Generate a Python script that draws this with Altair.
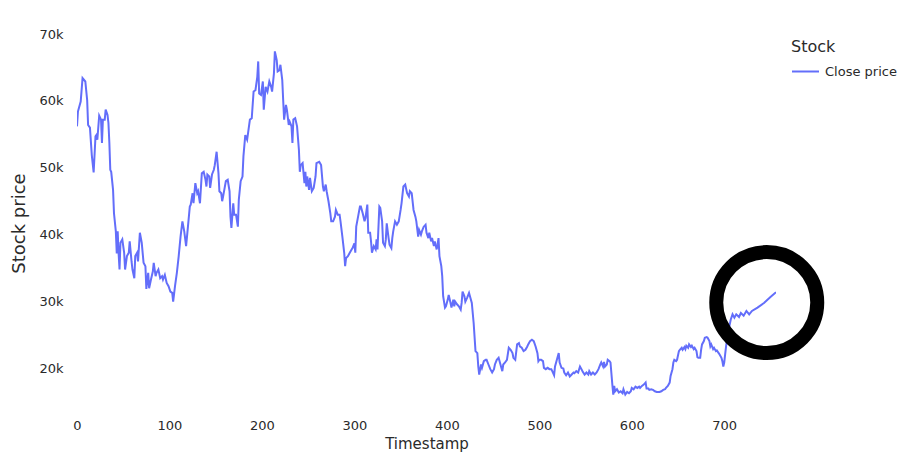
import altair as alt
import pandas as pd

# Timestamp values
timestamps = [
    0, 1, 4, 6, 9, 11, 12, 14, 16, 18, 20, 21, 22, 24, 26, 27, 28, 30, 31, 33,
    34, 35, 36, 37, 39, 40, 42, 43, 44, 45, 46, 47, 49, 51, 52, 54, 56, 57, 59, 60,
    62, 63, 65, 66, 68, 70, 72, 74, 75, 77, 78, 80, 82, 83, 85, 86, 88, 90, 92, 93,
    95, 97, 99, 101, 103, 104, 106, 108, 110, 112, 114, 116, 118, 120, 122, 123, 125, 126, 128, 130,
    131, 133, 135, 137, 139, 140, 141, 143, 144, 146, 148, 149, 151, 153, 154, 156, 157, 158, 161, 163,
    165, 166, 167, 169, 170, 172, 174, 175, 177, 179, 180, 182, 184, 185, 187, 189, 191, 193, 195, 196,
    197, 199, 201, 202, 204, 206, 208, 210, 211, 213, 214, 216, 217, 219, 220, 222, 223, 224, 226, 227,
    229, 230, 232, 233, 234, 236, 238, 240, 241, 242, 244, 246, 247, 248, 249, 251, 252, 254, 256, 258,
    259, 262, 264, 266, 267, 269, 270, 272, 274, 275, 277, 279, 280, 282, 284, 285, 287, 289, 290, 291,
    293, 295, 297, 298, 300, 301, 302, 304, 306, 307, 309, 311, 312, 314, 315, 317, 318, 319, 321, 323,
    324, 325, 327, 328, 330, 331, 333, 334, 335, 337, 338, 340, 341, 342, 344, 346, 348, 350, 351, 353,
    355, 357, 359, 360, 362, 364, 366, 367, 369, 370, 372, 373, 375, 377, 378, 380, 381, 383, 384, 386,
    387, 389, 390, 391, 392, 394, 395, 396, 398, 399, 401, 402, 404, 405, 407, 408, 409, 411, 413, 415,
    416, 417, 419, 420, 422, 424, 425, 427, 429, 431, 433, 434, 435, 437, 438, 440, 442, 443, 445, 447,
    449, 451, 452, 454, 456, 458, 460, 461, 463, 465, 467, 469, 471, 472, 474, 476, 478, 479, 481, 483,
    485, 487, 488, 490, 492, 494, 496, 498, 499, 500, 502, 504, 505, 507, 509, 511, 513, 514, 516, 517,
    519, 521, 522, 524, 526, 527, 529, 531, 533, 535, 537, 538, 540, 542, 544, 546, 547, 549, 551, 553,
    554, 556, 558, 560, 562, 564, 566, 567, 569, 570, 571, 573, 574, 576, 577, 579, 580, 581, 582, 584,
    586, 588, 590, 591, 593, 595, 597, 599, 600, 602, 604, 606, 608, 609, 611, 613, 615, 616, 618, 619,
    621, 623, 625, 627, 629, 630, 632, 634, 636, 637, 639, 641, 642, 644, 645, 646, 648, 649, 651, 652,
    654, 655, 657, 658, 659, 661, 662, 664, 665, 667, 668, 670, 671, 672, 674, 675, 676, 678, 679, 681,
    682, 684, 685, 686, 688, 689, 691, 692, 694, 695, 697, 698, 699, 700, 701, 702, 704, 707, 709, 711,
    713, 716, 718, 721, 724, 727, 730, 736, 743, 750, 756,
]

# Close price values
close_price = [
    56200, 58400, 59900, 63400, 62900, 60100, 56400, 56000, 51900, 49300, 54700, 54900, 54200, 57800, 57200, 53700, 57200, 57200, 58700, 57900,
    56700, 53700, 49700, 49400, 46700, 43200, 40500, 37200, 40500, 37200, 34800, 38800, 39300, 37300, 34800, 36800, 37300, 39000, 36000, 34800,
    33500, 36800, 37300, 36000, 40300, 38800, 35800, 35300, 31900, 34300, 32000, 33300, 34500, 35800, 33800, 34300, 34800, 33500, 33800, 33300,
    34000, 32800, 32300, 31500, 31300, 30000, 32300, 34300, 36800, 39700, 42000, 40500, 38300, 41200, 44200, 44500, 46200, 44700, 47700, 46200,
    46500, 44700, 49200, 49400, 48200, 47200, 49000, 48700, 47000, 49000, 49700, 50400, 52400, 49200, 46500, 46200, 45000, 45700, 48000, 48200,
    46500, 42700, 41000, 44700, 43000, 43000, 41200, 45200, 48000, 48700, 51700, 54900, 54200, 55200, 57200, 57400, 61400, 61600, 63600, 65900,
    61100, 60900, 62900, 58700, 62100, 61400, 62900, 62100, 61400, 64100, 67400, 66100, 64400, 64600, 65400, 63100, 60100, 57200, 59400, 58700,
    56400, 56900, 56200, 53700, 57200, 57400, 56200, 52700, 49400, 50400, 50700, 47700, 49400, 47200, 48700, 46700, 48500, 46500, 47000, 48700,
    50700, 50900, 50400, 47200, 46500, 47500, 46500, 45000, 43200, 42000, 42000, 42700, 43700, 43000, 43000, 42000, 39700, 37300, 35300, 36500,
    36800, 37300, 37800, 38000, 38700, 37300, 41200, 42700, 44200, 44200, 43200, 42000, 42500, 44500, 40300, 40300, 39000, 37300, 38300, 37800,
    39300, 37800, 44200, 44000, 42000, 38800, 38300, 39300, 41700, 39500, 38500, 38000, 39500, 40500, 42000, 41500, 42000, 43700, 44700, 47200,
    47500, 46200, 45700, 46500, 46200, 43700, 42700, 42000, 39700, 40700, 40000, 40500, 41200, 41500, 40300, 39500, 40300, 39000, 39500, 38300,
    39000, 37800, 38500, 39500, 36800, 35300, 33800, 30800, 29100, 29300, 30300, 31000, 29800, 29100, 30300, 29300, 30000, 29600, 29300, 28800,
    29800, 31500, 30800, 30000, 30600, 31300, 30800, 29800, 26800, 22600, 22300, 20300, 19100, 20600, 20100, 21100, 21300, 21300, 20600, 19900,
    19400, 19900, 20600, 21300, 21600, 20600, 19600, 20600, 20900, 21300, 23100, 22800, 22300, 21600, 21300, 23600, 23800, 23300, 23100, 22600,
    22800, 23300, 23600, 24100, 24300, 24100, 23300, 22300, 21100, 21300, 21300, 21100, 20100, 19900, 20100, 19900, 19900, 19600, 19000, 20300,
    21300, 22300, 20900, 20100, 20000, 19400, 19000, 19400, 18800, 19100, 19400, 19300, 19600, 19400, 20300, 19800, 19500, 19100, 19400, 19100,
    19600, 19100, 19400, 19100, 19400, 19900, 20600, 20900, 20300, 21000, 20300, 20600, 21300, 21100, 20900, 17600, 16100, 17400, 16600, 16900,
    16400, 16600, 16300, 16900, 16100, 16500, 16300, 16600, 17100, 16900, 17300, 17100, 17300, 17100, 17400, 17600, 17900, 17000, 17000, 16800,
    16900, 16800, 16600, 16500, 16500, 16500, 16600, 16800, 16900, 17100, 17400, 17900, 18900, 19900, 20900, 21300, 21100, 21300, 22600, 22800,
    23100, 22800, 23200, 22900, 23400, 23100, 23600, 23200, 23400, 22900, 23100, 22600, 21700, 21600, 21600, 22800, 23600, 24100, 24600, 24700,
    24600, 24100, 23300, 23600, 22900, 23100, 22600, 22700, 22300, 22100, 21600, 21100, 20300, 20900, 22100, 23300, 25300, 27300, 28100, 27600,
    28100, 27700, 28300, 27900, 28600, 28100, 28600, 29100, 29800, 30700, 31400,
]

series_name = ["Close price"]
x_ticks = [0, 100, 200, 300, 400, 500, 600, 700]
y_ticks = [20000, 30000, 40000, 50000, 60000, 70000]

# Annotation ring (black circle highlighting the last segment)
ring_t = [746]
ring_price = [29850]

df = pd.DataFrame({
    "Timestamp": timestamps,
    "price": close_price,
    "Stock": series_name * len(timestamps),
})
ring_df = pd.DataFrame({"Timestamp": ring_t, "price": ring_price})

FONT = "DejaVu Sans"
TXT = "#2a2a2a"

x_enc = alt.X(
    "Timestamp:Q",
    scale=alt.Scale(domain=[0, 756], nice=False, zero=False),
    axis=alt.Axis(
        values=x_ticks, grid=False, domain=False, ticks=False, labelFlush=False,
        labelPadding=7, labelFontSize=13, labelColor=TXT, labelFont=FONT,
        title="Timestamp", titleFontSize=15, titleFontWeight="normal",
        titleColor=TXT, titleFont=FONT, titlePadding=4,
    ),
)
y_enc = alt.Y(
    "price:Q",
    scale=alt.Scale(domain=[13500, 70000], nice=False, zero=False),
    axis=alt.Axis(
        values=y_ticks, format="~s", grid=False, domain=False, ticks=False, labelFlush=False,
        labelPadding=14, labelFontSize=13, labelColor=TXT, labelFont=FONT,
        title="Stock price", titleFontSize=18, titleFontWeight="normal",
        titleColor=TXT, titleFont=FONT, titlePadding=10,
    ),
)

line = alt.Chart(df).mark_line(strokeWidth=2, clip=True).encode(
    x=x_enc,
    y=y_enc,
    color=alt.Color(
        "Stock:N",
        scale=alt.Scale(domain=series_name, range=["#636efa"]),
        legend=alt.Legend(
            orient="none", legendX=714, legendY=5,
            title="Stock", titleFontSize=16, titleFontWeight="normal",
            titleColor=TXT, titleFont=FONT, titlePadding=2,
            labelFontSize=13, labelColor=TXT, labelFont=FONT, labelOffset=5,
            symbolType="stroke", symbolSize=729, symbolStrokeWidth=2,
            padding=0,
        ),
    ),
)

ring = alt.Chart(ring_df).mark_point(
    shape="circle", filled=False, size=10201, strokeWidth=14,
    color="black", opacity=1,
).encode(x="Timestamp:Q", y="price:Q")

chart = alt.layer(line, ring).properties(
    width=699,
    height=378,
    autosize=alt.AutoSizeParams(type="none"),
    padding={"left": 69, "top": 26, "right": 123, "bottom": 44},
    background="white",
).configure_view(stroke=None)

chart.save("out.html", embed_options={"renderer": "svg", "actions": False})
